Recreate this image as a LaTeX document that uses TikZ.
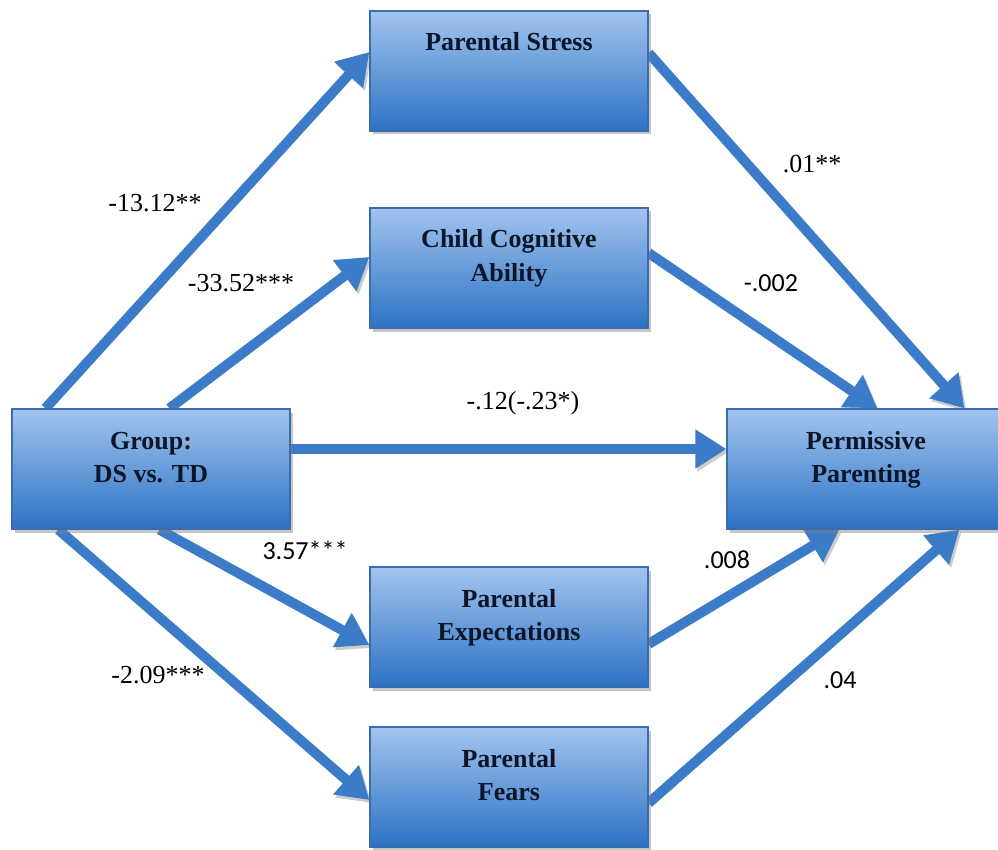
\documentclass[tikz,border=0pt]{standalone}
\usepackage{fontspec}
\setmainfont{Liberation Serif}
\newfontfamily\sansnum{Carlito}
\usetikzlibrary{arrows.meta,shadows,calc}

\definecolor{arrowblue}{RGB}{59,123,200}
\definecolor{boxtop}{RGB}{162,196,238}
\definecolor{boxbottom}{RGB}{44,114,196}
\definecolor{boxedge}{RGB}{58,108,175}
\definecolor{boxtext}{RGB}{12,22,40}

\pgfdeclarelayer{back}
\pgfsetlayers{back,main}

% box text: top-aligned block inside a fixed 120pt-high box
\newcommand{\boxtxt}[1]{\parbox[c][120pt][t]{258pt}{\centering\rule{0pt}{40pt}#1}}

\begin{document}
\begin{tikzpicture}[x=1pt,y=-1pt,
  varbox/.style={draw=boxedge, line width=1.2pt, top color=boxtop, bottom color=boxbottom,
    inner xsep=10pt, inner ysep=0pt, text=boxtext,
    drop shadow={shadow xshift=2.5pt, shadow yshift=-3.5pt, opacity=.45},
    font=\fontsize{26}{33}\selectfont\bfseries},
  link/.style={line width=10pt, draw=arrowblue, -{Triangle[length=31pt,width=37pt]},
    preaction={draw=black, opacity=.2, transform canvas={shift={(2pt,-3pt)}}}},
  coef/.style={font=\fontsize{26}{30}\selectfont, inner sep=0pt},
  coefs/.style={font=\sansnum\fontsize{26}{30}\selectfont, inner sep=0pt}]

\useasboundingbox (0,0) rectangle (998,850);
\clip (0,0) rectangle (998,850);

% variables
\node[varbox] (s) at (509,71)  {\boxtxt{Parental Stress}};
\node[varbox] (c) at (509,268) {\boxtxt{Child Cognitive\\Ability}};
\node[varbox] (g) at (151,469) {\boxtxt{Group:\\DS vs. TD}};
\node[varbox] (p) at (866,469) {\boxtxt{Permissive\\Parenting}};
\node[varbox] (e) at (509,627) {\boxtxt{Parental\\Expectations}};
\node[varbox] (f) at (509,787) {\boxtxt{Parental\\Fears}};

% paths, drawn beneath the boxes
\begin{pgfonlayer}{back}
  \draw[link] ($(g.north west)+(34,0)$)  -- ($(s.west)+(0,-19)$);
  \draw[link] ($(g.north west)+(158,0)$) -- ($(c.west)+(0,-11)$);
  \draw[link] ($(g.east)+(0,-20)$)       -- ($(p.west)+(0,-20)$);
  \draw[link] ($(s.east)+(0,-18)$)       -- ($(p.north west)+(238,0)$);
  \draw[link] ($(c.east)+(0,-15)$)       -- ($(p.north west)+(151,0)$);
  \draw[link] ($(e.east)+(0,17)$)        -- ($(p.south west)+(113,0)$);
  \draw[link] ($(f.east)+(0,16)$)        -- ($(p.south west)+(233,0)$);
  \draw[link] ($(g.south west)+(148,0)$) -- ($(e.west)+(0,18)$);
  \draw[link] ($(g.south west)+(47,0)$)  -- ($(f.west)+(0,13)$);
\end{pgfonlayer}

% coefficients
\node[coef]  (k1) at (155,203) {-13.12**};
\node[coef]  (k2) at (241,283) {-33.52***};
\node[coef]  (k3) at (812,164) {.01**};
\node[coefs] (k4) at (771,283) {-.002};
\node[coef]  (k5) at (523,403) {-.12(-.23*)};
\node[coefs] (k6) at (305,550) {3.57***};
\node[coefs] (k7) at (727,560) {.008};
\node[coef]  (k8) at (158,675) {-2.09***};
\node[coefs] (k9) at (840,680) {.04};
\end{tikzpicture}
\end{document}
